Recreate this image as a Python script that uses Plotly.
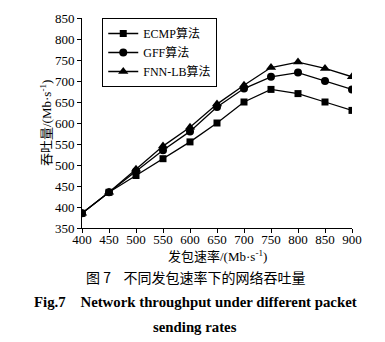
import plotly.graph_objects as go

rates = [400, 450, 500, 550, 600, 650, 700, 750, 800, 850, 900]
ecmp = [385, 435, 475, 515, 555, 600, 650, 680, 670, 650, 630]
gff = [385, 435, 485, 535, 580, 638, 682, 710, 720, 700, 680]
fnn = [385, 435, 490, 545, 590, 645, 690, 732, 745, 730, 710]
names = ["ECMP算法", "GFF算法", "FNN-LB算法"]
x_ticks = [400, 450, 500, 550, 600, 650, 700, 750, 800, 850, 900]
y_ticks = [350, 400, 450, 500, 550, 600, 650, 700, 750, 800, 850]

serif = "Liberation Serif, Noto Sans CJK SC"
fig = go.Figure()
for vals, nm, sym, sz in [(ecmp, names[0], "square", 7), (gff, names[1], "circle", 8), (fnn, names[2], "triangle-up", 9)]:
    fig.add_trace(go.Scatter(x=rates, y=vals, name=nm, mode="lines+markers",
                             line=dict(color="black", width=1.3),
                             marker=dict(symbol=sym, size=sz, color="black")))

fig.update_layout(
    width=385, height=342, margin=dict(l=82, r=33, t=11, b=114),
    paper_bgcolor="white", plot_bgcolor="white",
    font=dict(family=serif, size=13, color="black"),
    showlegend=True,
    legend=dict(x=0.075, y=1.0, xanchor="left", yanchor="top", bgcolor="white",
                bordercolor="black", borderwidth=1, font=dict(size=12, family=serif),
                tracegroupgap=0, itemwidth=30),
)
fig.update_xaxes(range=[400, 900], tickvals=x_ticks, showline=True, linecolor="black", linewidth=1,
                 ticks="outside", ticklen=4, tickcolor="black", showgrid=False, zeroline=False,
                 ticklabelstandoff=-5)
fig.update_yaxes(range=[350, 850], tickvals=y_ticks, showline=True, linecolor="black", linewidth=1,
                 ticks="outside", ticklen=4, tickcolor="black", showgrid=False, zeroline=False)
fig.add_annotation(text="发包速率/(Mb·s<sup>-1</sup>)", xref="paper", yref="paper", x=0.5, y=0,
                   yshift=-28, showarrow=False, font=dict(size=13, family=serif), yanchor="middle")
fig.add_annotation(text="吞吐量/(Mb·s<sup>-1</sup>)", xref="paper", yref="paper", x=0, y=0.5,
                   xshift=-36, textangle=-90, showarrow=False, font=dict(size=13, family=serif),
                   xanchor="center", yanchor="middle")
fig.add_annotation(text="图 7    不同发包速率下的网络吞吐量", xref="paper", yref="paper", x=0.42, y=0,
                   yshift=-49, showarrow=False, font=dict(size=14, family="Noto Sans CJK SC"), yanchor="middle")
fig.add_annotation(text="<b>Fig.7    Network throughput under different packet</b>", xref="paper", yref="paper",
                   x=0.42, y=0, yshift=-74, showarrow=False, font=dict(size=14.8, family=serif), yanchor="middle")
fig.add_annotation(text="<b>sending rates</b>", xref="paper", yref="paper",
                   x=0.42, y=0, yshift=-99, showarrow=False, font=dict(size=14.8, family=serif), yanchor="middle")
fig.write_html("out.html")
